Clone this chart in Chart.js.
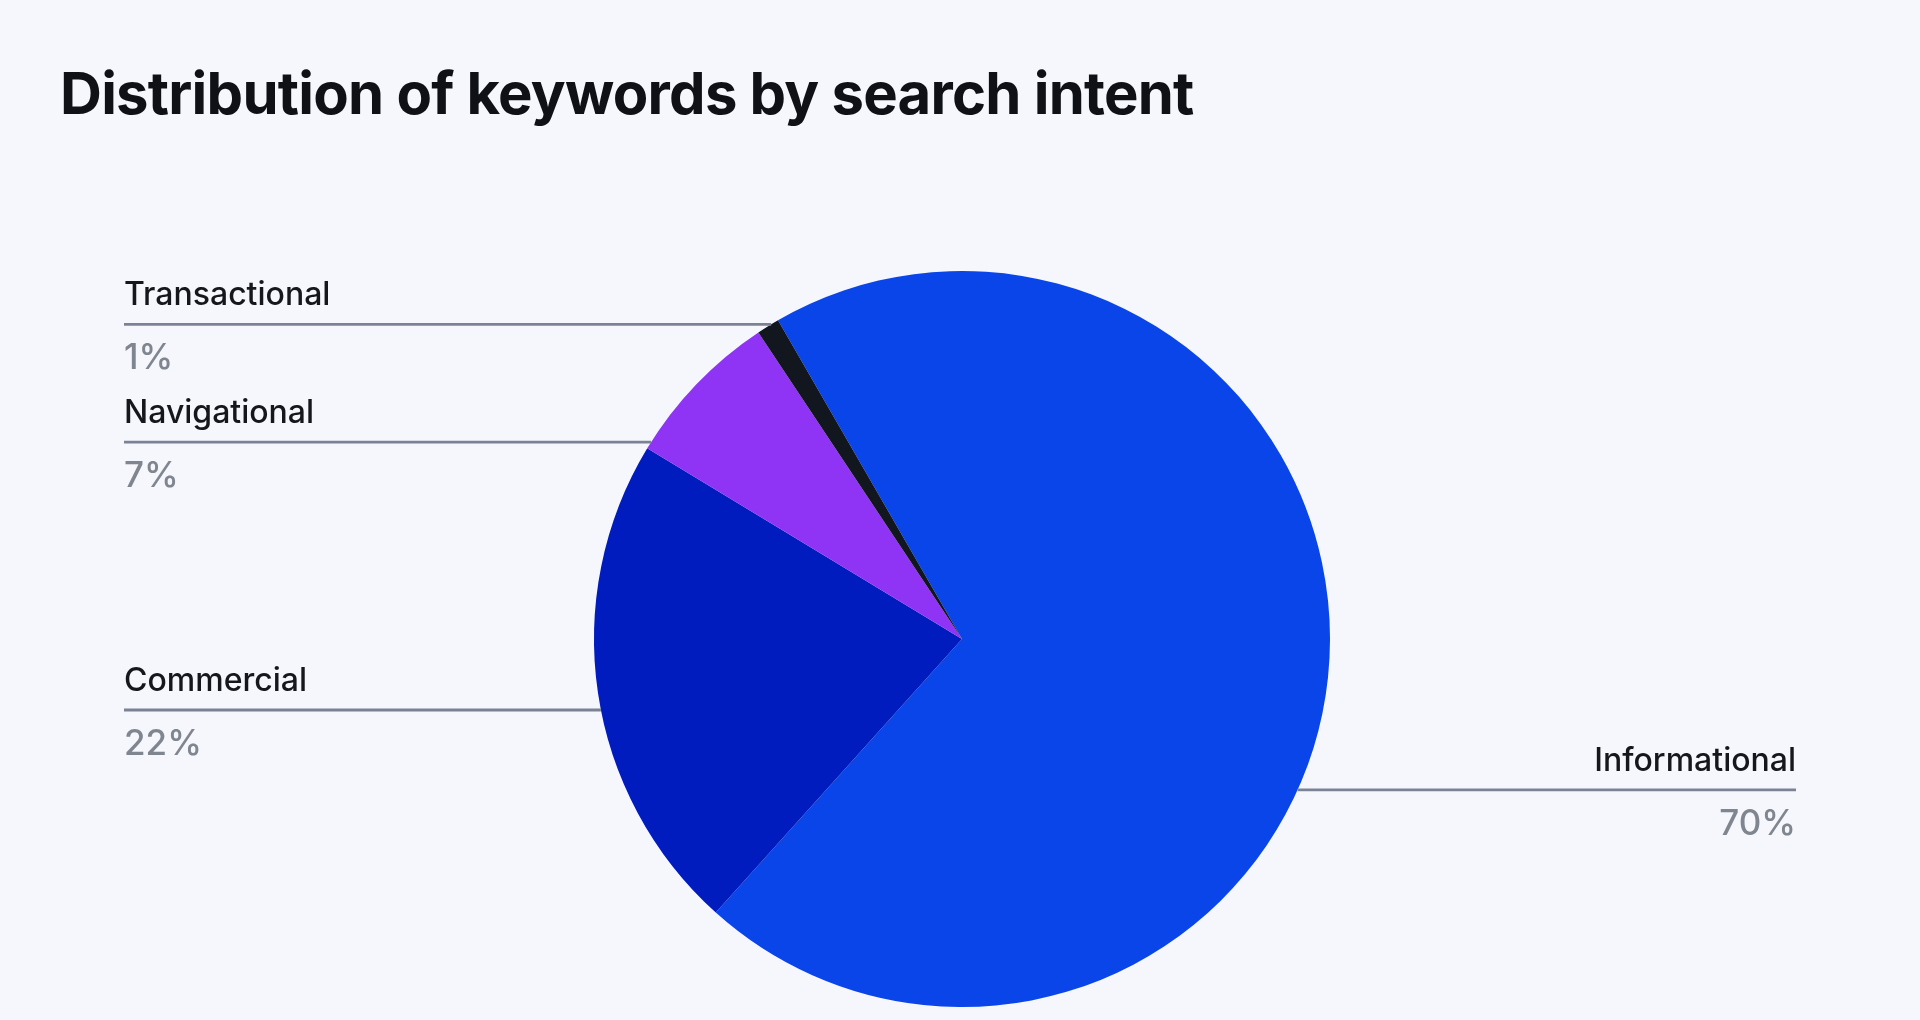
<!DOCTYPE html>
<html>
<head>
<meta charset="utf-8">
<script src="https://cdn.jsdelivr.net/npm/chart.js@4"></script>
<style>
  html, body { margin: 0; padding: 0; background: #f5f7fc; }
  #wrap { position: relative; width: 1920px; height: 1020px; }
  #title {
    position: absolute; left: 60px; top: 58px;
    font-family: Inter, sans-serif; font-weight: 700; font-size: 58px;
    letter-spacing: -0.75px; color: #0f1117;
  }
</style>
</head>
<body>
<div id="wrap">
  <div id="title">Distribution of keywords by search intent</div>
  <canvas id="pie" width="1920" height="1020"></canvas>
</div>
<script>
// data
var categories = ["Informational", "Commercial", "Navigational", "Transactional"];
var shares = [70, 22, 7, 1];
var colors = ['#0a45ea', '#001bbe', '#8f33f5', '#12161f'];

// leader line plugin - draws label, rule and percent for each slice
var leaders = {
  id: 'leaders',
  afterDatasetsDraw: function(chart, args, opts) {
    var ctx = chart.ctx;
    var meta = chart.getDatasetMeta(0);
    meta.data.forEach(function(arc, i) {
      var cx = arc.x, cy = arc.y, r = arc.outerRadius;
      var mid = (arc.startAngle + arc.endAngle) / 2;
      var left = Math.cos(mid) < 0;
      var ly = cy + opts.rows[i] * r;
      var dx = Math.sqrt(r * r - (ly - cy) * (ly - cy));
      var x0, x1;
      if (left) { x0 = opts.leftX; x1 = cx - dx; }
      else { x0 = cx + dx; x1 = opts.rightX; }

      ctx.save();
      ctx.strokeStyle = '#7c8296';
      ctx.lineWidth = 2.8;
      ctx.beginPath();
      ctx.moveTo(x0, ly);
      ctx.lineTo(x1, ly);
      ctx.stroke();

      ctx.textAlign = left ? 'left' : 'right';
      ctx.textBaseline = 'alphabetic';
      var tx = left ? x0 : x1;
      ctx.fillStyle = '#15171c';
      ctx.font = '500 32px Inter, sans-serif';
      ctx.fillText(categories[i], tx, ly - 19);
      ctx.fillStyle = '#80868f';
      ctx.font = '500 35px Inter, sans-serif';
      ctx.fillText(shares[i] + '%', tx, ly + 45);
      ctx.restore();
    });
  }
};

var ctx = document.getElementById('pie').getContext('2d');
var chart = new Chart(ctx, {
  type: 'pie',
  data: {
    labels: categories,
    datasets: [{
      data: shares,
      backgroundColor: colors,
      borderWidth: 0
    }]
  },
  options: {
    responsive: false,
    animation: false,
    rotation: -30,
    layout: { padding: { left: 594, right: 590, top: 271, bottom: 13 } },
    plugins: {
      legend: { display: false },
      tooltip: { enabled: false },
      leaders: { rows: [0.41, 0.193, -0.535, -0.855], leftX: 124, rightX: 1796 }
    }
  },
  plugins: [leaders]
});
</script>
</body>
</html>
